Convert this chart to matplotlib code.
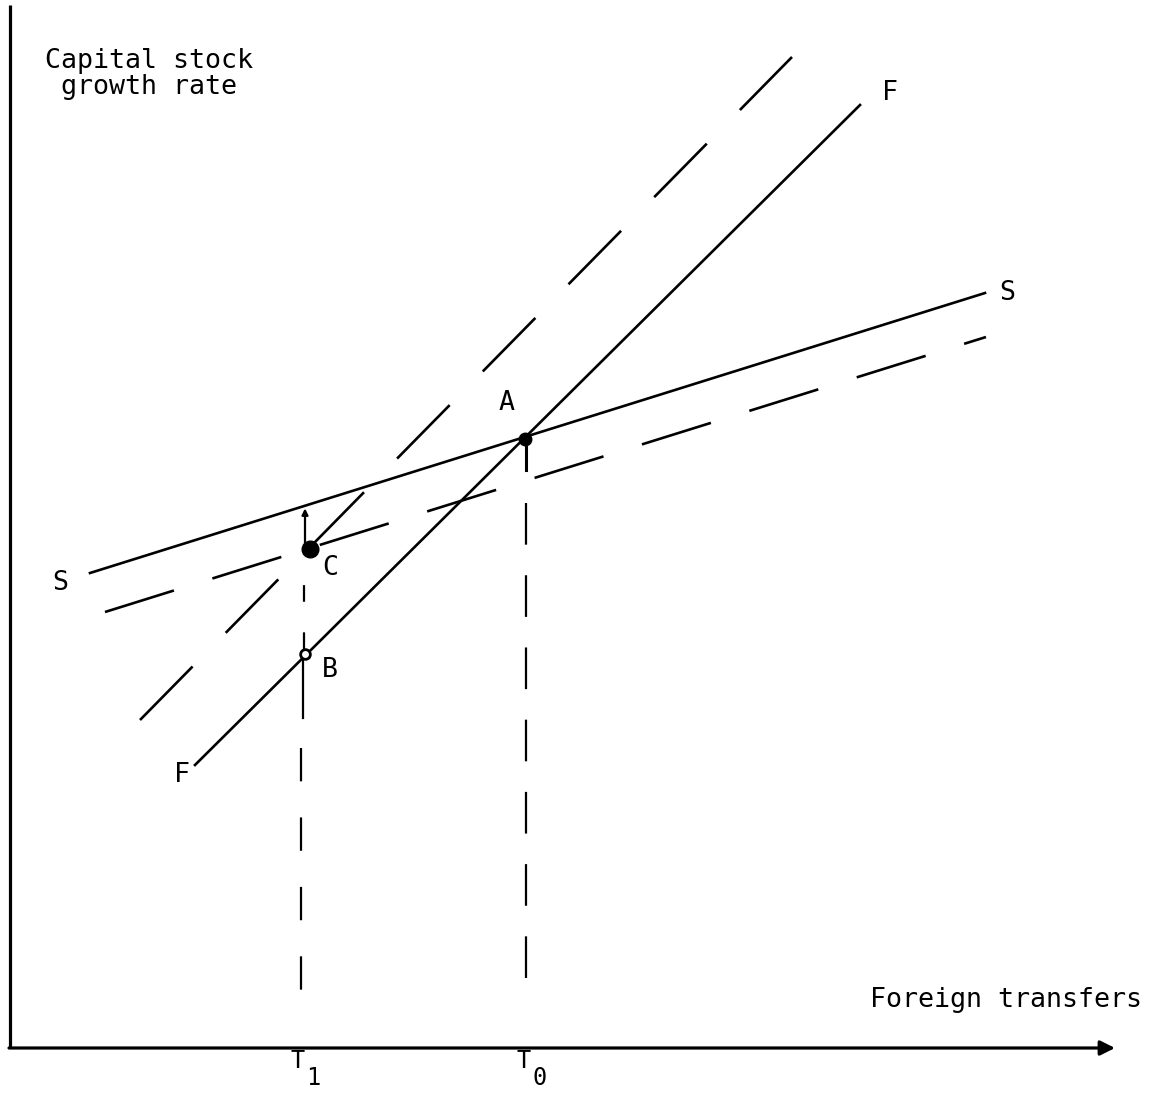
import numpy as np
import matplotlib
matplotlib.use('Agg')
import matplotlib.pyplot as plt

plt.rcParams['font.family'] = 'DejaVu Sans Mono'
plt.rcParams['lines.scale_dashes'] = False

# line end points (origin where the axes meet)
S_x = [80, 975]          # savings schedule, solid
S_y = [475, 755]
S2_x = [95, 976]         # shifted savings schedule, dashed
S2_y = [436, 711]
F_x = [185, 850]         # foreign transfers schedule, solid
F_y = [283, 943]
F2_x = [130, 782]        # shifted schedule, dashed
F2_y = [328, 991]

# equilibrium points
A = (515, 609)
B = (295, 394)
C = (300, 499)

# transfer levels
T1 = 293
T0 = 516

x_end = 1105
y_end = 1043

fig = plt.figure(figsize=(11.61, 10.95), dpi=100)
ax = fig.add_axes([0, 0, 1, 1])
ax.set_xlim(-10, 1151)
ax.set_ylim(-47, 1048)
ax.axis('off')

# axes
ax.plot([0, 0], [0, y_end], color='k', lw=2.3, solid_capstyle='butt')
ax.annotate('', xy=(x_end, 0), xytext=(-1, 0),
            arrowprops=dict(arrowstyle='-|>', lw=2.3, color='k',
                            mutation_scale=22, shrinkA=0, shrinkB=0))

# schedules
ax.plot(S_x, S_y, color='k', lw=1.9)
ax.plot(F_x, F_y, color='k', lw=1.9)
ax.plot(S2_x, S2_y, color='k', lw=1.9, linestyle=(0, (52, 29)))
ax.plot(F2_x, F2_y, color='k', lw=1.9, linestyle=(0, (54, 34)))

# vertical guides
s_at_t1 = np.interp(T1, S_x, S_y)
ax.annotate('', xy=(T1 + 2, s_at_t1 - 2), xytext=(T1 + 2, C[1]),
            arrowprops=dict(arrowstyle='-|>', lw=1.6, color='k',
                            mutation_scale=9, shrinkA=0, shrinkB=0))
ax.plot([T1 + 1, T1 + 1], [C[1], B[1]], color='k', lw=1.6, linestyle=(8, (12, 22)))
ax.plot([T1, T1], [B[1], 330], color='k', lw=1.6)
ax.plot([T1 - 2, T1 - 2], [300, 31], color='k', lw=1.6, linestyle=(0, (24, 26)))

ax.plot([T0, T0], [A[1], 578], color='k', lw=2.2)
ax.plot([T0, T0], [545, 58], color='k', lw=1.6, linestyle=(0, (30, 22)))

# points
ax.plot(*A, marker='o', ms=9, color='k')
ax.plot(*C, marker='o', ms=12, color='k')
ax.plot(*B, marker='o', ms=7, mfc='white', mec='k', mew=2)

# labels
fs = 19.2
ax.text(35, 974, 'Capital stock\n growth rate', fontsize=fs, ha='left', va='center',
        linespacing=1.0)
ax.text(860, 48, 'Foreign transfers', fontsize=fs, ha='left', va='center')
ax.text(50, 465, 'S', fontsize=fs, ha='center', va='center')
ax.text(997, 755, 'S', fontsize=fs, ha='center', va='center')
ax.text(880, 955, 'F', fontsize=fs, ha='center', va='center')
ax.text(172, 273, 'F', fontsize=fs, ha='center', va='center')
ax.text(497, 645, 'A', fontsize=fs, ha='center', va='center')
ax.text(320, 480, 'C', fontsize=fs, ha='center', va='center')
ax.text(320, 378, 'B', fontsize=fs, ha='center', va='center')

fs_t = 17
ax.text(T1 - 5, -13, 'T', fontsize=fs_t, ha='center', va='center')
ax.text(T1 + 10, -30, '1', fontsize=fs_t, ha='center', va='center')
ax.text(T0 - 2, -13, 'T', fontsize=fs_t, ha='center', va='center')
ax.text(T0 + 14, -30, '0', fontsize=fs_t, ha='center', va='center')

fig.savefig('out.png', dpi=100, facecolor='white')
